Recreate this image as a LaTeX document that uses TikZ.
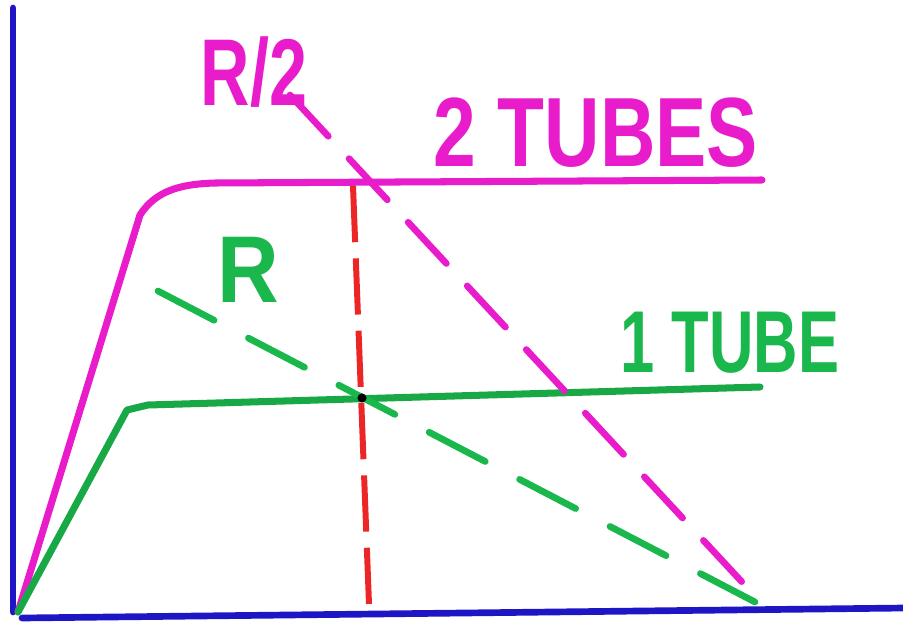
\documentclass[tikz,border=0pt]{standalone}
\usepackage{fontspec}
\setsansfont{Liberation Sans}
\usetikzlibrary{positioning}
\definecolor{penblue}{RGB}{30,22,196}
\definecolor{penpink}{RGB}{232,28,202}
\definecolor{pengreen}{RGB}{26,184,76}
\definecolor{penred}{RGB}{236,38,38}

\begin{document}
\begin{tikzpicture}[
  x=0.2mm, y=-0.2mm,
  font=\sffamily\bfseries,
  axis/.style={draw=penblue, line width=3.8pt, line cap=round},
  curve/.style={line width=4pt, line cap=round, line join=round},
  loadline/.style={line width=3.8pt, line cap=round},
  cutline/.style={draw=penred, line width=3.4pt, dash pattern=on 32pt off 9.2pt},
  tag/.style={inner sep=0pt, anchor=center}
]
  \useasboundingbox (0,0) rectangle (903,630);

  % axes
  \coordinate (origin) at (18,612);
  \coordinate (ytop) at (13,8);
  \coordinate (xend) at (905,608);
  \draw[axis] (ytop) -- (13,612);
  \draw[axis] (22,618) -- (xend);

  % characteristics
  \coordinate (twoknee) at (140,215);
  \coordinate (twoflat) at (215,183);
  \coordinate (twoend) at (762,180);
  \draw[curve, draw=penpink] (origin) -- (twoknee)
    .. controls (156,190) and (182,184) .. (twoflat) -- (twoend);
  \coordinate (oneknee) at (127,410);
  \coordinate (oneflat) at (148,405);
  \coordinate (oneend) at (760,387);
  \draw[curve, draw=pengreen!92!black] (origin) -- (oneknee) -- (oneflat) -- (oneend);

  % load lines
  \coordinate (halfstart) at (290,95);
  \coordinate (halfend) at (742,582);
  \draw[loadline, draw=penpink, dash pattern=on 32pt off 17.4pt] (halfstart) -- (halfend);
  \coordinate (fullstart) at (158,291);
  \coordinate (fullend) at (755,602);
  \draw[loadline, draw=pengreen, dash pattern=on 36pt off 22pt] (fullstart) -- (fullend);

  % operating point
  \coordinate (cuttop) at (353,186);
  \coordinate (cutbottom) at (369,604);
  \draw[cutline] (cuttop) -- (cutbottom);
  \fill[black] (362,398) circle (2.6pt);

  \node[tag, text=penpink, font=\sffamily\bfseries\fontsize{54}{54}\selectfont]
    (halflabel) at (254,72) {\scalebox{0.72}[1]{R/2}};
  \node[tag, text=penpink, font=\sffamily\bfseries\fontsize{56}{56}\selectfont]
    (twolabel) at (596,133) {\scalebox{0.78}[1]{2 TUBES}};
  \node[tag, text=pengreen, font=\sffamily\bfseries\fontsize{54}{54}\selectfont]
    (fulllabel) at (248,270) {\scalebox{0.9}[1]{R}};
  \node[tag, text=pengreen, font=\sffamily\bfseries\fontsize{50}{50}\selectfont]
    (onelabel) at (730,343) {\scalebox{0.7}[1]{1 TUBE}};
\end{tikzpicture}
\end{document}
